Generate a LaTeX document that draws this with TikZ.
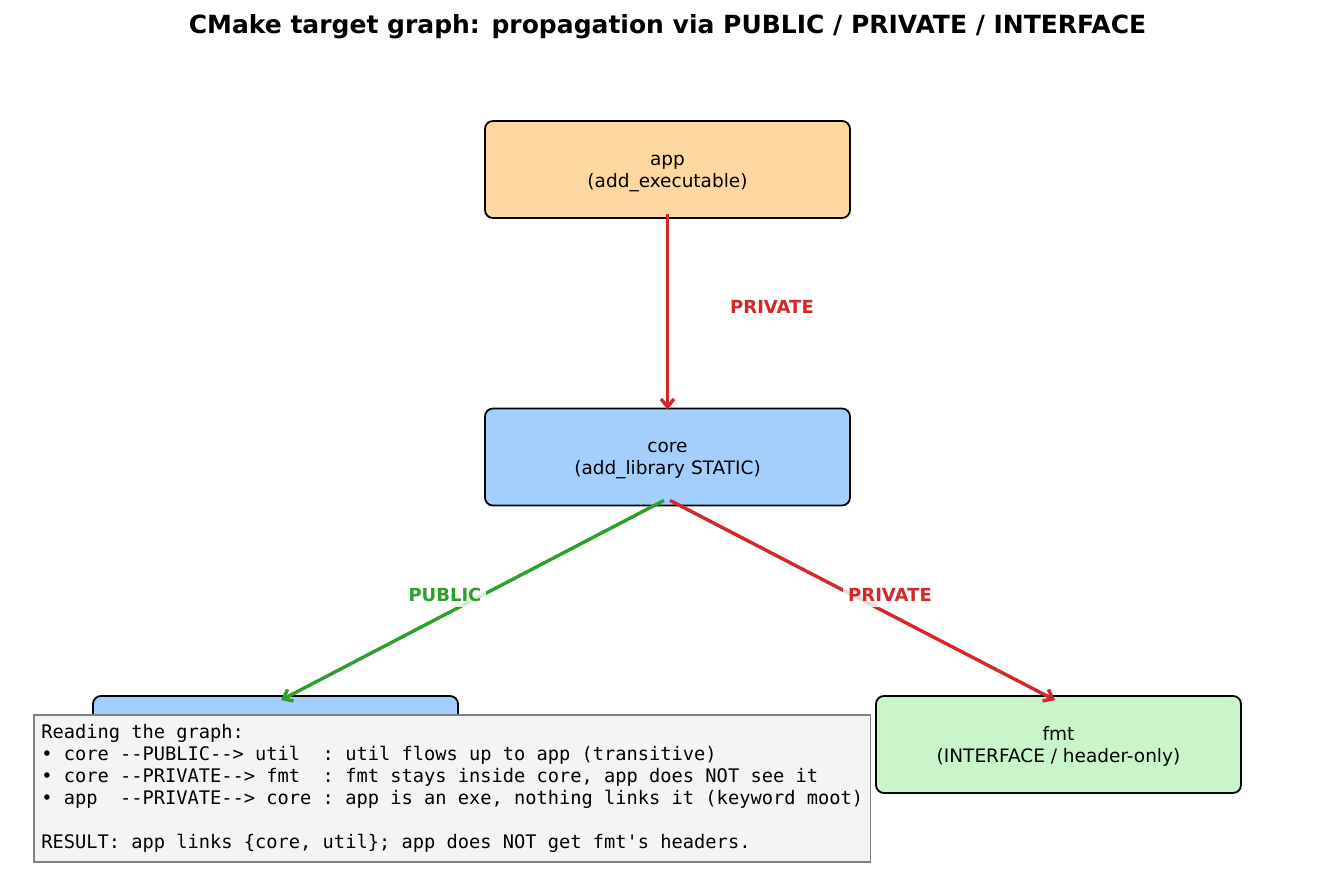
\documentclass[tikz,border=0pt]{standalone}
\usepackage{fontspec}
\setmainfont{DejaVu Sans}
\setmonofont{DejaVu Sans Mono}
\usetikzlibrary{arrows.meta}
\definecolor{appfill}{HTML}{FFD8A0}
\definecolor{libfill}{HTML}{A3CFFF}
\definecolor{fmtfill}{HTML}{C8F6C8}
\definecolor{notefill}{HTML}{F4F4F4}
\definecolor{noteline}{HTML}{808080}
\definecolor{pubgreen}{HTML}{2CA02C}
\definecolor{privred}{HTML}{D62728}
\newcommand{\tstrut}{\rule{0pt}{18pt}}
\begin{document}
\begin{tikzpicture}[x=1pt,y=-1pt,
  target/.style={draw=black, line width=1.8pt, rounded corners=8pt,
    minimum width=365pt, minimum height=97pt, align=center, inner sep=0pt,
    font=\fontsize{18.5}{22}\selectfont},
  link/.style={line width=3.4pt, -{Straight Barb[length=8pt,width=13pt]}},
  lbl/.style={font=\fontsize{18}{22}\selectfont\bfseries, fill=white,
    fill opacity=0.8, text opacity=1, inner sep=5pt},
  notebox/.style={draw=noteline, fill=notefill, line width=1.6pt, align=left,
    anchor=north west, inner xsep=7.5pt, inner ysep=9.5pt,
    font=\fontsize{18.7}{22}\ttfamily}]
\useasboundingbox (0,0) rectangle (1335,883);
\node[font=\fontsize{25}{30}\selectfont\bfseries] (title) at (667.5,27)
  {CMake target graph: propagation via PUBLIC / PRIVATE / INTERFACE};
\node[target, fill=appfill] (app) at (667.5,169.5) {\tstrut app\\(add\_executable)};
\node[target, fill=libfill] (core) at (667.5,457) {\tstrut core\\(add\_library STATIC)};
\node[target, fill=libfill] (util) at (275.5,744.5) {};
\node[target, fill=fmtfill] (fmt) at (1058.5,744.5) {\tstrut fmt\\(INTERFACE / header-only)};
\draw[link, privred] ([yshift=5pt]app.south) -- ([yshift=-2pt]core.north);
\draw[link, pubgreen] ([xshift=-3.5pt,yshift=6pt]core.south) -- ([xshift=5.5pt,yshift=-5pt]util.north);
\draw[link, privred] ([xshift=2.5pt,yshift=6pt]core.south) -- ([xshift=-3.5pt,yshift=-5pt]fmt.north);
\node[lbl, text=privred] (l1) at (772,307) {PRIVATE};
\node[lbl, text=pubgreen] (l2) at (445,595) {PUBLIC};
\node[lbl, text=privred] (l3) at (890,595) {PRIVATE};
\node[notebox] (note) at (33,714) {Reading the graph:\\
• core --PUBLIC--> util\ \ : util flows up to app (transitive)\\
• core --PRIVATE--> fmt\ \ : fmt stays inside core, app does NOT see it\\
• app\ \ --PRIVATE--> core : app is an exe, nothing links it (keyword moot)\\
\mbox{}\\
RESULT: app links \{core, util\}; app does NOT get fmt's headers.};
\end{tikzpicture}
\end{document}
